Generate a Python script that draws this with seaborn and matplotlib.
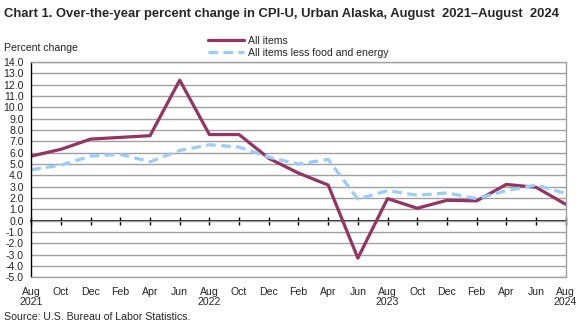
import matplotlib
matplotlib.use("Agg")
import matplotlib.pyplot as plt
import seaborn as sns
import pandas as pd
from matplotlib.lines import Line2D

months = ["Aug\n2021", "Oct", "Dec", "Feb", "Apr", "Jun", "Aug\n2022", "Oct", "Dec", "Feb",
          "Apr", "Jun", "Aug\n2023", "Oct", "Dec", "Feb", "Apr", "Jun", "Aug\n2024"]
all_items = [5.7, 6.3, 7.2, 7.35, 7.5, 12.4, 7.6, 7.6, 5.5, 4.2,
             3.15, -3.3, 1.95, 1.1, 1.8, 1.75, 3.2, 2.95, 1.45]
core_items = [4.5, 4.9, 5.7, 5.85, 5.2, 6.2, 6.7, 6.5, 5.6, 5.0,
              5.4, 1.9, 2.65, 2.25, 2.45, 1.95, 2.65, 3.15, 2.4]
series_names = ["All items", "All items less food and energy"]
yticks = [v for v in range(-5, 15)]

df = pd.DataFrame({
    "idx": list(range(len(months))) * 2,
    "value": all_items + core_items,
    "series": [series_names[0]] * len(months) + [series_names[1]] * len(months),
})

sns.set_style("white")
plt.rcParams["font.family"] = ["Liberation Sans", "DejaVu Sans"]

FS = 7.6
fig = plt.figure(figsize=(5.86, 3.27), dpi=100)
ax = fig.add_axes([0.0534, 0.1517, 0.9119, 0.6587])

colors = {series_names[0]: "#943463", series_names[1]: "#99CCFF"}
sns.lineplot(data=df, x="idx", y="value", hue="series", style="series",
             palette=colors, dashes={series_names[0]: "", series_names[1]: (3, 1.7)},
             linewidth=2.3, ax=ax, legend=False)

ax.set_xlim(0, len(months) - 1)
ax.set_ylim(-5, 14)
ax.set_yticks(yticks)
ax.set_yticklabels([f"{v:.1f}" for v in yticks], fontsize=FS)
ax.set_xticks(range(len(months)))
ax.set_xticklabels(months, fontsize=FS, linespacing=1.0)
ax.tick_params(axis="y", length=0, pad=5.5)
ax.tick_params(axis="x", length=0, pad=7)
ax.set_xlabel("")
ax.set_ylabel("")
ax.grid(axis="y", color="#A0A0A0", linewidth=1.0)
ax.set_axisbelow(True)
for s in ["top", "right", "bottom"]:
    ax.spines[s].set_color("#A0A0A0")
    ax.spines[s].set_linewidth(1.0)
ax.spines["left"].set_color("black")
ax.spines["left"].set_linewidth(1.0)

# zero line with ticks
sec = ax.secondary_xaxis(5 / 19)
sec.set_xticks(range(len(months)))
sec.tick_params(axis="x", direction="inout", length=6, width=1, color="black",
                labelbottom=False, labeltop=False)
sec.spines["bottom"].set_color("black")
sec.spines["bottom"].set_linewidth(1.2)
sec.spines["top"].set_color("black")
sec.spines["top"].set_linewidth(1.2)

# legend
handles = [Line2D([], [], color=colors[series_names[0]], lw=2.3),
           Line2D([], [], color=colors[series_names[1]], lw=2.3, dashes=(3, 1.7))]
fig.legend(handles, series_names, loc="center left", bbox_to_anchor=(0.355, 0.8566),
           frameon=False, fontsize=FS, handlelength=3.45, handletextpad=0.3,
           labelspacing=0.2, borderpad=0, borderaxespad=0)

fig.text(0.006, 0.975, "Chart 1. Over-the-year percent change in CPI-U, Urban Alaska, August  2021\u2013August  2024",
         fontsize=9.4, fontweight="bold", va="top", ha="left")
fig.text(0.006, 0.853, "Percent change", fontsize=FS, va="center", ha="left")
fig.text(0.006, 0.032, "Source: U.S. Bureau of Labor Statistics.", fontsize=FS, va="center", ha="left")

fig.savefig("out.png", dpi=100)
